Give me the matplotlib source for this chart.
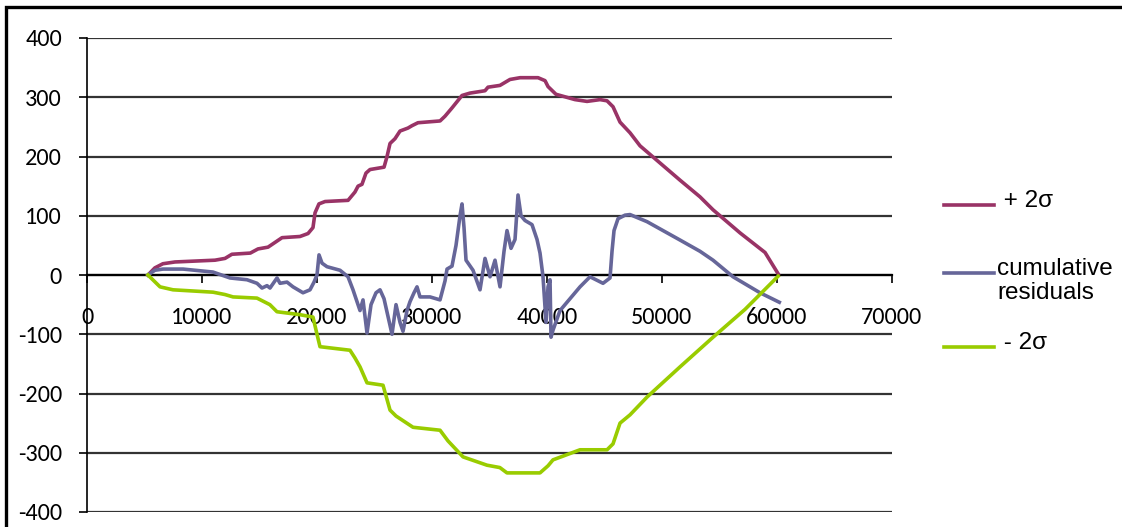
import matplotlib.pyplot as plt
from matplotlib.lines import Line2D
from matplotlib.patches import Rectangle

plt.rcParams['font.family'] = ['Carlito', 'DejaVu Sans']
plt.rcParams['axes.unicode_minus'] = False

# +2 sigma band
plus_x = [5300, 5900, 6600, 7650, 11130, 12000, 12600, 14200, 14870, 15740,
          16350, 16960, 18520, 19220, 19650, 19830, 20170, 20700, 22700, 23300,
          23570, 23910, 24260, 24610, 25830, 26090, 26350, 26780, 27220, 27910,
          28260, 28780, 30700, 31130, 31740, 32610, 33300, 34610, 34870, 35910,
          36780, 37660, 39220, 39830, 40090, 40780, 42440, 43480, 44610, 45220,
          45740, 46350, 47220, 48090, 51570, 53300, 54440, 56790, 58960, 60100]
plus_y = [0, 12, 19, 22, 25, 28, 35, 37, 44, 47,
          55, 63, 65, 70, 80, 105, 120, 124, 126, 140,
          150, 153, 172, 178, 182, 200, 222, 230, 243, 248,
          252, 257, 260, 268, 282, 303, 307, 311, 317, 320,
          330, 333, 333, 328, 318, 305, 296, 293, 296, 294,
          284, 258, 240, 218, 160, 132, 110, 71, 38, 2]

# cumulative residuals
res_x = [5300, 5900, 6600, 8350, 10950, 12435, 13914, 14783, 15218, 15653,
         15914, 16522, 16783, 17392, 17914, 18783, 19392, 19740, 20000, 20175,
         20436, 20870, 22001, 22697, 23131, 23740, 24001, 24349, 24697, 25131,
         25479, 25827, 26175, 26523, 26871, 27219, 27479, 27827, 28088, 28436,
         28697, 28958, 29827, 30697, 31132, 31306, 31740, 32088, 32436, 32610,
         32784, 32958, 33567, 34175, 34610, 35045, 35480, 35914, 36262, 36523,
         36871, 37219, 37480, 37741, 38088, 38697, 39132, 39393, 39654, 39915,
         40089, 40263, 40349, 40523, 41132, 42001, 42871, 43741, 44871, 45480,
         45654, 45828, 46176, 46785, 47219, 48698, 51567, 53306, 54437, 56176,
         58524, 60200]
res_y = [0, 8, 10, 10, 5, -5, -8, -14, -22, -18,
         -22, -5, -14, -12, -20, -30, -25, -12, 0, 34,
         20, 14, 8, -3, -25, -60, -42, -98, -50, -30,
         -25, -40, -70, -100, -50, -80, -95, -60, -45, -30,
         -20, -37, -37, -42, -10, 10, 15, 50, 100, 120,
         80, 25, 8, -25, 28, -3, 25, -20, 40, 75,
         45, 60, 135, 100, 92, 85, 60, 37, -3, -80,
         -20, -8, -105, -93, -60, -40, -20, -3, -14, -5,
         40, 75, 95, 101, 102, 90, 59, 40, 25, -3,
         -30, -46]

# -2 sigma band
minus_x = [5300, 6350, 7480, 10960, 12000, 12700, 14780, 15900, 16520, 18520,
           19650, 20000, 20260, 22870, 23300, 23740, 24350, 25740, 26350, 26870,
           28350, 30700, 31390, 32700, 34780, 35900, 36520, 39390, 40090, 40520,
           42870, 45220, 45740, 46350, 47220, 48700, 51570, 54440, 57220, 60100]
minus_y = [0, -20, -25, -29, -33, -37, -39, -50, -62, -67,
           -71, -100, -121, -127, -140, -155, -182, -186, -228, -238,
           -257, -262, -280, -307, -321, -325, -334, -334, -322, -312,
           -295, -295, -285, -250, -236, -206, -155, -105, -58, -2]

labels = [' + 2σ', 'cumulative\nresiduals', ' - 2σ']
colors = ['#993366', '#666699', '#99CC00']

W, H = 1122, 527
fig = plt.figure(figsize=(W / 100, H / 100), dpi=100)
ax = fig.add_axes([87 / W, 1 - 512 / H, (892 - 87) / W, (512 - 38) / H])

series = [(plus_x, plus_y), (res_x, res_y), (minus_x, minus_y)]
for (xs, ys), c, lab in zip(series, colors, labels):
    ax.plot(xs, ys, color=c, lw=2.6, solid_joinstyle='round', label=lab, zorder=3)

ax.set_xlim(0, 70000)
ax.set_ylim(-400, 400)
ax.set_xticks(range(0, 70001, 10000))
ax.set_yticks(range(-400, 401, 100))
ax.grid(axis='y', color='#333333', lw=1.6)
ax.set_axisbelow(True)

ax.spines['top'].set_visible(False)
ax.spines['right'].set_visible(False)
ax.spines['bottom'].set_position(('data', 0))
ax.spines['bottom'].set_linewidth(1.6)
ax.spines['left'].set_linewidth(1.2)

ax.tick_params(axis='y', direction='out', length=6, width=1.2, pad=12, labelsize=17.5)
ax.tick_params(axis='x', direction='out', length=6, width=1.2, pad=17, labelsize=17.5)

# legend, Excel style: handle level with the first text line
leg_y = [205, 273, 347]
for y, c, lab in zip(leg_y, colors, labels):
    fig.add_artist(Line2D([944 / W, 994 / W], [1 - y / H] * 2, color=c, lw=2.6))
    fig.text(997 / W, 1 - (y - 15) / H, lab, va='top', ha='left',
             family='Liberation Sans', fontsize=17.5, linespacing=1.12)

# outer chart frame
fig.add_artist(Rectangle((6 / W, -0.1), 1.2, 1.1 - 6.5 / H, transform=fig.transFigure,
                         fill=False, lw=2.4, edgecolor='black'))

fig.savefig('out.png', dpi=100)
